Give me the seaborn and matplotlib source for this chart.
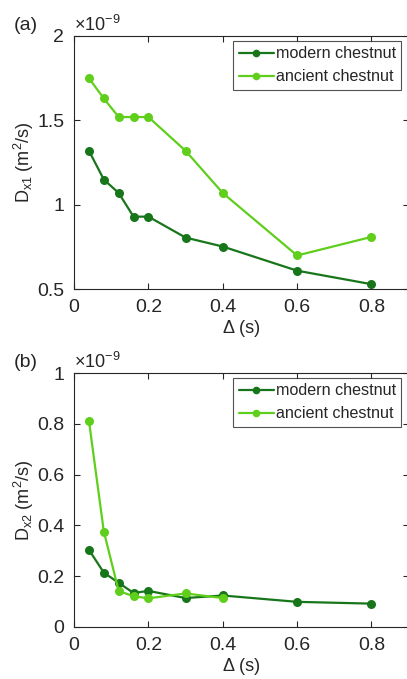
import numpy as np
import pandas as pd
import matplotlib
matplotlib.use("Agg")
import matplotlib.pyplot as plt
import seaborn as sns

# Diffusion time (s)
delta = [0.04, 0.08, 0.12, 0.16, 0.2, 0.3, 0.4, 0.6, 0.8]
delta_b_ancient = [0.04, 0.08, 0.12, 0.16, 0.2, 0.3, 0.4]

# Dx1 in units of 1e-9 m^2/s
dx1_modern = [1.32, 1.15, 1.07, 0.93, 0.93, 0.806, 0.753, 0.61, 0.53]
dx1_ancient = [1.75, 1.63, 1.52, 1.52, 1.52, 1.32, 1.07, 0.70, 0.81]

# Dx2 in units of 1e-9 m^2/s
dx2_modern = [0.304, 0.214, 0.174, 0.134, 0.142, 0.114, 0.124, 0.099, 0.092]
dx2_ancient = [0.812, 0.376, 0.142, 0.121, 0.113, 0.132, 0.114]

series_names = ["modern chestnut", "ancient chestnut"]
colors = {"modern chestnut": "#18761a", "ancient chestnut": "#5fcf1c"}
xticks = [0, 0.2, 0.4, 0.6, 0.8]

sns.set_style("ticks")
plt.rcParams["font.family"] = ["Liberation Sans", "DejaVu Sans"]
plt.rcParams["mathtext.fontset"] = "custom"
plt.rcParams["mathtext.rm"] = "Liberation Sans"
plt.rcParams["mathtext.it"] = "Liberation Sans"

df_a = pd.concat([
    pd.DataFrame({"delta": delta, "D": dx1_modern, "sample": series_names[0]}),
    pd.DataFrame({"delta": delta, "D": dx1_ancient, "sample": series_names[1]}),
])
df_b = pd.concat([
    pd.DataFrame({"delta": delta, "D": dx2_modern, "sample": series_names[0]}),
    pd.DataFrame({"delta": delta_b_ancient, "D": dx2_ancient, "sample": series_names[1]}),
])

fig = plt.figure(figsize=(4.07, 6.79), dpi=100)
ax_a = fig.add_axes([0.182, 0.574, 0.822, 0.373])
ax_b = fig.add_axes([0.182, 0.0766, 0.822, 0.374])

panels = [
    (ax_a, df_a, "D$_{\\mathrm{x1}}$ (m$^2$/s)", (0.5, 2), [0.5, 1, 1.5, 2], "(a)", 0.962),
    (ax_b, df_b, "D$_{\\mathrm{x2}}$ (m$^2$/s)", (0, 1), [0, 0.2, 0.4, 0.6, 0.8, 1], "(b)", 0.466),
]

for ax, df, ylabel, ylim, yticks, tag, tag_y in panels:
    sns.lineplot(data=df, x="delta", y="D", hue="sample", hue_order=series_names,
                 palette=colors, marker="o", markersize=6.5, markeredgewidth=0,
                 linewidth=1.6, sort=False, estimator=None, ax=ax, legend=False)
    ax.set_xlim(0, 0.9)
    ax.set_ylim(*ylim)
    ax.set_xticks(xticks)
    ax.set_xticklabels([f"{t:g}" for t in xticks])
    ax.set_yticks(yticks)
    ax.set_yticklabels([f"{t:g}" for t in yticks])
    ax.tick_params(direction="in", top=True, right=True, labelsize=14,
                   length=4, width=0.8, colors="#262626", pad=7)
    for s in ax.spines.values():
        s.set_linewidth(0.8)
        s.set_color("#262626")
    ax.set_xlabel("\u0394 (s)", fontsize=13, labelpad=3)
    ax.set_ylabel(ylabel, fontsize=13, labelpad=1)
    ax.text(0.0, 1.005, "\u00d710$^{-9}$", transform=ax.transAxes,
            fontsize=13, ha="left", va="bottom", color="#262626")
    fig.text(0.033, tag_y, tag, fontsize=14, ha="left", va="center")

    handles = [plt.Line2D([], [], color=colors[n], marker="o", markersize=5.5,
                          markeredgewidth=0, linewidth=1.6) for n in series_names]
    leg = ax.legend(handles, series_names, loc="upper right",
                    bbox_to_anchor=(0.978, 0.982), fontsize=11.6, frameon=True,
                    fancybox=False, edgecolor="#262626", handlelength=2.2,
                    handletextpad=0.08, borderpad=0.35, labelspacing=0.5,
                    borderaxespad=0.0)
    leg.get_frame().set_linewidth(0.8)

fig.savefig("out.png", dpi=100)
